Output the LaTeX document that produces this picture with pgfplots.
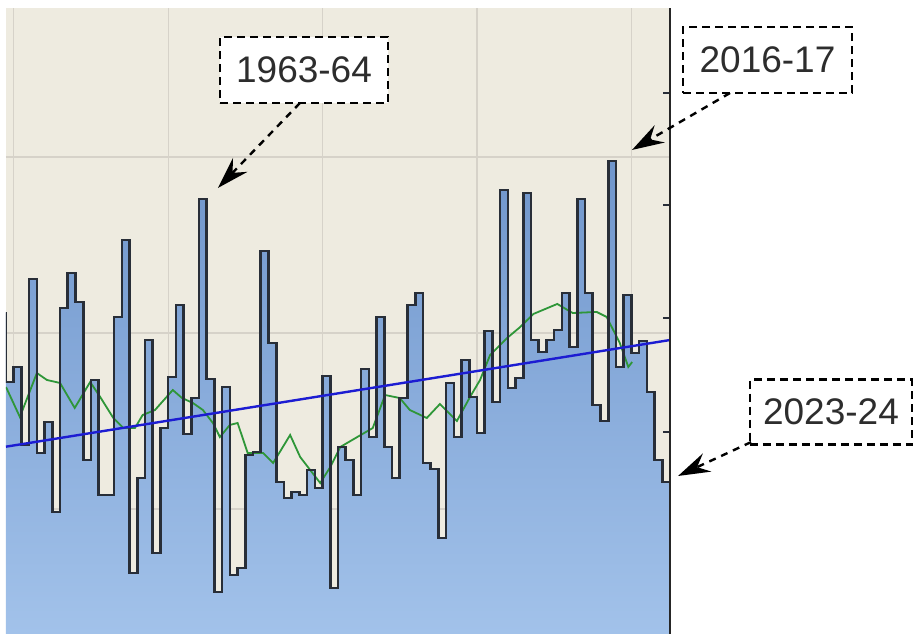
\documentclass[border=0pt]{standalone}
\usepackage{fontspec}
\setmainfont{Liberation Sans}
\usepackage{pgfplots}
\usepackage{pgfplotstable}
\pgfplotsset{compat=1.18}
\usetikzlibrary{arrows.meta}
\definecolor{bgbeige}{RGB}{238,235,224}
\definecolor{gridc}{RGB}{214,210,201}
\definecolor{stepc}{RGB}{40,46,56}
\definecolor{filltop}{RGB}{112,150,204}
\definecolor{fillbot}{RGB}{162,194,234}
\definecolor{trendc}{RGB}{28,28,210}
\definecolor{mavc}{RGB}{46,150,56}
\definecolor{txtc}{RGB}{45,45,45}

\pgfplotstableread{
season value
1938 42.27
1939 34.43
1940 36.14
1941 27.27
1942 46.14
1943 26.36
1944 29.89
1945 19.66
1946 42.84
1947 46.82
1948 43.52
1949 25.57
1950 34.66
1951 21.59
1952 21.59
1953 41.82
1954 50.57
1955 12.73
1956 23.52
1957 39.20
1958 15.00
1959 29.20
1960 35.00
1961 43.18
1962 28.52
1963 32.61
1964 55.23
1965 34.77
1966 10.57
1967 33.86
1968 12.50
1969 13.30
1970 26.14
1971 26.48
1972 49.32
1973 38.86
1974 23.07
1975 21.25
1976 21.93
1977 21.59
1978 24.43
1979 22.39
1980 35.11
1981 11.02
1982 27.05
1983 25.57
1984 21.59
1985 35.91
1986 28.18
1987 41.82
1988 27.05
1989 23.52
1990 32.61
1991 43.18
1992 44.55
1993 25.23
1994 24.55
1995 16.70
1996 34.32
1997 28.18
1998 36.93
1999 32.73
2000 28.64
2001 40.23
2002 32.16
2003 56.25
2004 33.75
2005 34.89
2006 55.91
2007 39.20
2008 37.84
2009 39.20
2010 40.34
2011 44.55
2012 38.41
2013 55.23
2014 44.55
2015 31.82
2016 30.00
2017 59.55
2018 36.14
2019 44.32
2020 37.73
2021 39.09
2022 33.30
2023 25.57
2024 23.07
2025 23.07
}\seasons

\pgfplotstableread{
x y
1939.0 33.86
1940.8 30.45
1941.8 32.73
1943.0 35.45
1944.3 34.66
1946.0 34.32
1947.9 31.48
1949.9 34.43
1951.2 32.73
1952.9 30.34
1954.2 29.20
1955.7 29.20
1956.7 30.68
1958.3 31.25
1960.6 33.52
1961.8 32.61
1963.2 32.05
1964.5 31.25
1965.8 29.77
1966.7 28.18
1968.0 29.55
1969.0 29.77
1970.3 26.36
1972.3 26.36
1973.6 25.23
1975.8 28.41
1977.1 25.91
1978.4 24.43
1979.7 22.95
1981.0 24.77
1982.3 27.05
1984.5 28.18
1986.5 29.20
1988.1 32.95
1990.0 32.61
1991.3 31.25
1993.5 30.34
1995.2 31.93
1997.4 30.00
1999.1 32.73
2000.4 34.66
2001.7 37.50
2003.9 39.43
2005.6 40.68
2007.3 42.16
2010.4 43.30
2012.4 42.27
2015.5 42.39
2016.8 41.82
2018.5 38.86
2019.6 36.14
2020.1 36.70
}\mavg

\begin{document}
\begin{tikzpicture}
\useasboundingbox (0,0) rectangle (919bp,634bp);
\begin{axis}[
  at={(6bp,0bp)}, anchor=south west,
  scale only axis, width=664bp, height=626bp,
  xmin=1939, xmax=2025, ymin=5.795, ymax=76.93,
  axis background/.style={fill=bgbeige},
  axis line style={draw=none},
  xtick={1940,1960,1980,2000,2020}, ytick={20,40,60},
  xticklabels={}, yticklabels={},
  major tick length=0pt,
  xmajorgrids, ymajorgrids,
  grid style={gridc, line width=1.2bp},
  ytick pos=right, xtick pos=bottom,
  extra y ticks={16.14,28.75,41.70,54.55,67.27},
  extra y tick labels={},
  extra y tick style={grid=none, major tick length=7bp, tick align=inside,
     tick style={stepc, line width=2bp}},
  clip mode=individual,
]
\addplot[const plot mark left, draw=none, top color=filltop, bottom color=fillbot, forget plot]
  table[x=season, y=value] {\seasons} \closedcycle;
\addplot[mavc, line width=1.8bp, no marks] table[x=x, y=y] {\mavg};
\addplot[const plot mark left, stepc, line width=2.6bp, no marks]
  table[x=season, y=value] {\seasons};
\addplot[trendc, line width=2.4bp, no marks] coordinates {(1939,27.08) (2025,39.20)};

\draw[black!85, line width=2.4bp] (rel axis cs:1,0) -- (rel axis cs:1,1);

\tikzset{annbox/.style={draw=black, dash pattern=on 8bp off 5bp, line width=2.4bp,
   fill=white, inner sep=0pt, text=txtc, font=\fontsize{37bp}{40bp}\selectfont},
   annarrow/.style={line width=2.4bp, dash pattern=on 7bp off 6bp,
   -{Stealth[length=32bp,width=20bp,inset=11bp]}}}

\node[annbox, minimum width=168bp, minimum height=66bp] at (axis cs:1977.6,69.89) {1963-64};
\draw[annarrow] (axis cs:1977.08,66.14) -- (axis cs:1966.45,56.48);

\node[annbox, minimum width=169bp, minimum height=66bp] at (axis cs:2037.63,71.02) {2016-17};
\draw[annarrow] (axis cs:2032.77,67.27) -- (axis cs:2020.08,60.80);

\node[annbox, minimum width=162bp, minimum height=65bp] at (axis cs:2045.85,31.02) {2023-24};
\draw[annarrow] (axis cs:2035.5,27.6) -- (axis cs:2026.04,23.75);
\end{axis}
\end{tikzpicture}
\end{document}
